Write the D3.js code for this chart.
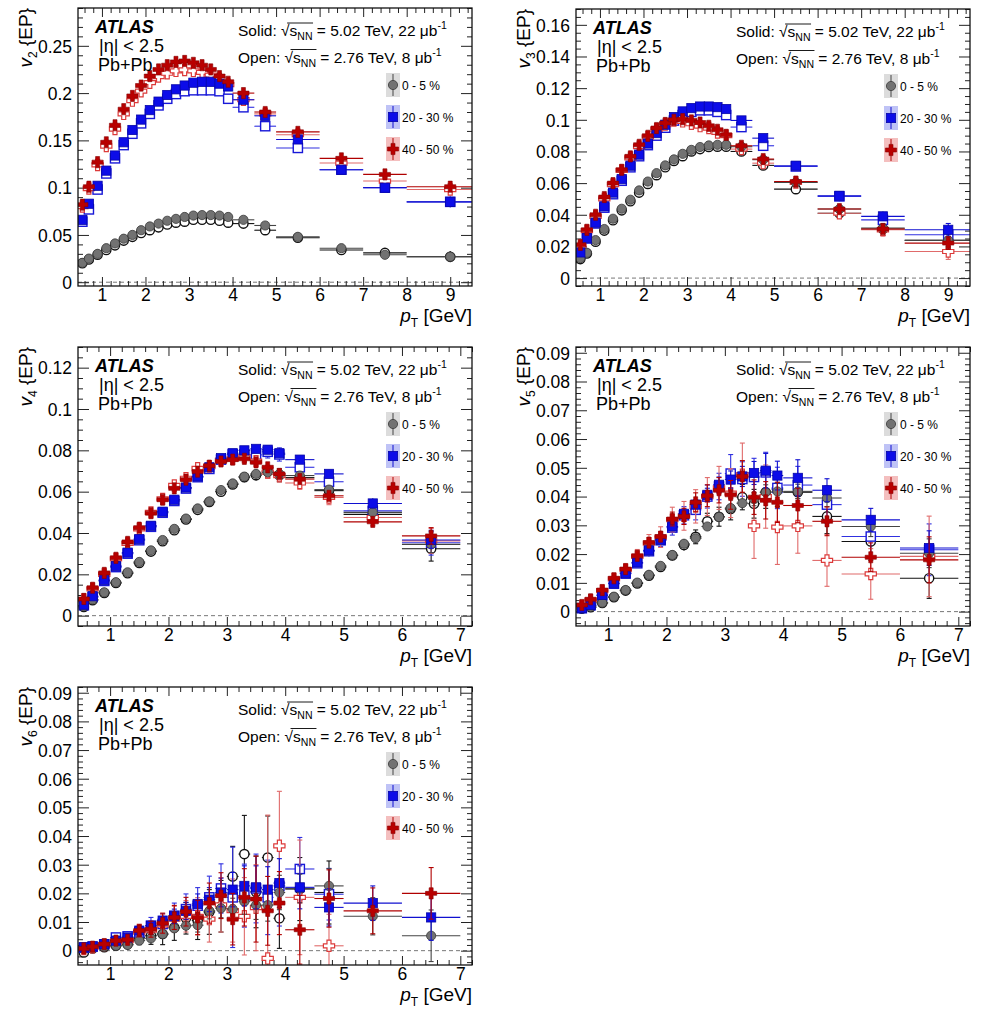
<!DOCTYPE html>
<html><head><meta charset="utf-8">
<script src="https://cdn.jsdelivr.net/npm/d3@7"></script>
<style>
body{margin:0;background:#fff}
svg{display:block}
text{font-family:"Liberation Sans",Arial,Helvetica,sans-serif;fill:#000;white-space:pre}
</style>
</head><body>
<svg id="chart" width="986" height="1011"></svg>
<script>
// ---------------- DATA ----------------
const pTCenters = [0.55,0.7,0.9,1.1,1.3,1.5,1.7,1.9,2.1,2.3,2.5,2.7,2.9,3.1,3.3,3.5,3.7,3.9,4.25,4.75,5.5,6.5,7.5,9.0];
const pTLow     = [0.5,0.6,0.8,1.0,1.2,1.4,1.6,1.8,2.0,2.2,2.4,2.6,2.8,3.0,3.2,3.4,3.6,3.8,4.0,4.5,5,6,7,8];
const pTHigh    = [0.6,0.8,1.0,1.2,1.4,1.6,1.8,2.0,2.2,2.4,2.6,2.8,3.0,3.2,3.4,3.6,3.8,4.0,4.5,5,6,7,8,10];

const centralityLabels = ["0 - 5 %","20 - 30 %","40 - 50 %"];
const ticksWideX = [1,2,3,4,5,6,7,8,9];
const ticksNarrowX = [1,2,3,4,5,6,7];
const v2YTicks = [0,0.05,0.1,0.15,0.2,0.25];
const v3YTicks = [0,0.02,0.04,0.06,0.08,0.1,0.12,0.14,0.16];
const v4YTicks = [0,0.02,0.04,0.06,0.08,0.1,0.12];
const v5YTicks = [0,0.01,0.02,0.03,0.04,0.05,0.06,0.07,0.08,0.09];
const v6YTicks = [0,0.01,0.02,0.03,0.04,0.05,0.06,0.07,0.08,0.09];

// v2
const v2_0_5_502   = [0.0205,0.025,0.030,0.036,0.041,0.046,0.050,0.055,0.059,0.062,0.065,0.067,0.069,0.0705,0.071,0.071,0.0705,0.069,0.066,0.060,0.048,0.036,0.029,0.027];
const v2_0_5_276   = [0.020,0.024,0.029,0.034,0.039,0.044,0.048,0.052,0.055,0.058,0.061,0.063,0.064,0.066,0.066,0.066,0.065,0.063,0.062,0.055,0.047,0.034,0.031,0.027];
const v2_20_30_502 = [0.066,0.083,0.102,0.118,0.134,0.148,0.161,0.172,0.182,0.191,0.198,0.204,0.208,0.211,0.212,0.212,0.210,0.207,0.193,0.176,0.151,0.119,0.100,0.085];
const v2_20_30_276 = [0.064,0.077,0.098,0.115,0.131,0.145,0.157,0.168,0.178,0.187,0.194,0.199,0.202,0.203,0.203,0.203,0.202,0.194,0.185,0.165,0.142,0.119,0.100,0.085];
const v2_40_50_502 = [0.082,0.101,0.127,0.148,0.166,0.183,0.197,0.208,0.218,0.225,0.2295,0.233,0.234,0.232,0.2295,0.225,0.218,0.212,0.200,0.180,0.159,0.131,0.114,0.101];
const v2_40_50_276 = [0.080,0.099,0.124,0.144,0.162,0.178,0.192,0.202,0.211,0.2175,0.221,0.2235,0.2245,0.2235,0.222,0.219,0.215,0.209,0.193,0.178,0.156,0.126,0.107,0.098];
const v2_err_502   = [0.0004,0.0004,0.0004,0.0004,0.0004,0.0004,0.0004,0.0004,0.0004,0.0004,0.0004,0.0004,0.0005,0.0005,0.0005,0.0005,0.0006,0.0006,0.0008,0.001,0.0015,0.002,0.003,0.004];
const v2_err_276   = [0.0006,0.0006,0.0006,0.0006,0.0006,0.0006,0.0006,0.0006,0.0006,0.0006,0.0007,0.0007,0.0007,0.0008,0.0008,0.0009,0.0009,0.001,0.0012,0.0015,0.002,0.003,0.004,0.006];

// v3
const v3_0_5_502   = [0.0126,0.016,0.024,0.031,0.0375,0.0438,0.0495,0.0554,0.061,0.0663,0.0712,0.075,0.0785,0.081,0.0828,0.0838,0.0842,0.0842,0.083,0.0748,0.0604,0.0436,0.0316,0.0238];
const v3_0_5_276   = [0.012,0.0155,0.023,0.030,0.0365,0.0428,0.0485,0.054,0.0595,0.065,0.070,0.074,0.077,0.080,0.0815,0.0828,0.083,0.083,0.080,0.0712,0.0562,0.041,0.031,0.0238];
const v3_20_30_502 = [0.0162,0.0253,0.035,0.0453,0.054,0.0625,0.071,0.078,0.085,0.0916,0.0969,0.1017,0.1053,0.1074,0.1084,0.1084,0.108,0.1068,0.0996,0.0884,0.071,0.052,0.039,0.0305];
const v3_20_30_276 = [0.0158,0.025,0.0345,0.0445,0.053,0.0615,0.070,0.077,0.084,0.090,0.095,0.0995,0.103,0.105,0.106,0.106,0.105,0.103,0.0954,0.0836,0.0705,0.0516,0.0368,0.0274];
const v3_40_50_502 = [0.021,0.0305,0.040,0.0512,0.060,0.0684,0.0769,0.0842,0.0899,0.0948,0.098,0.100,0.1004,0.0996,0.0983,0.0962,0.0937,0.0905,0.0836,0.0752,0.061,0.0436,0.031,0.0221];
const v3_40_50_276 = [0.020,0.030,0.039,0.050,0.059,0.068,0.076,0.083,0.089,0.094,0.097,0.0995,0.099,0.0975,0.096,0.0948,0.092,0.090,0.0815,0.0726,0.0604,0.041,0.0305,0.0168];
const v3_err_502   = [0.0004,0.0004,0.0004,0.0004,0.0004,0.0004,0.0004,0.0004,0.0004,0.0004,0.0005,0.0005,0.0005,0.0005,0.0006,0.0006,0.0006,0.0007,0.0008,0.001,0.0015,0.002,0.003,0.004];
const v3_err_276   = [0.0005,0.0005,0.0005,0.0005,0.0005,0.0005,0.0005,0.0005,0.0006,0.0006,0.0006,0.0007,0.0007,0.0008,0.0008,0.0009,0.001,0.001,0.0012,0.0015,0.002,0.003,0.004,0.005];

// v4
const v4_0_5_502   = [0.0045,0.0078,0.0113,0.0162,0.021,0.026,0.0316,0.0366,0.042,0.047,0.0519,0.0553,0.0608,0.064,0.0673,0.0686,0.0694,0.0686,0.0678,0.061,0.050,0.0345];
const v4_0_5_276   = [0.0042,0.0075,0.011,0.0158,0.0205,0.0255,0.031,0.036,0.0413,0.0465,0.0512,0.055,0.060,0.0635,0.067,0.068,0.0697,0.068,0.0668,0.0605,0.049,0.0324];
const v4_20_30_502 = [0.0053,0.0094,0.0172,0.024,0.0305,0.037,0.0435,0.0503,0.0561,0.062,0.0674,0.0718,0.0762,0.0786,0.080,0.0807,0.0803,0.0786,0.0755,0.0686,0.0543,0.0366];
const v4_20_30_276 = [0.005,0.009,0.0168,0.0235,0.030,0.0365,0.043,0.0498,0.0555,0.0615,0.067,0.071,0.0755,0.078,0.078,0.0778,0.0793,0.078,0.0718,0.0648,0.0507,0.0353];
const v4_40_50_502 = [0.0081,0.0135,0.0207,0.028,0.0357,0.0426,0.0496,0.0561,0.0616,0.0658,0.0697,0.0726,0.0746,0.0755,0.0759,0.0742,0.0718,0.0686,0.0661,0.058,0.0454,0.0386];
const v4_40_50_276 = [0.0078,0.013,0.020,0.0275,0.035,0.042,0.050,0.0565,0.063,0.0665,0.0713,0.0722,0.0752,0.0759,0.0767,0.0748,0.0694,0.0678,0.0642,0.0572,0.0475,0.0362];
const v4_err_502   = [0.0003,0.0003,0.0003,0.0003,0.0004,0.0004,0.0005,0.0005,0.0006,0.0007,0.0008,0.0009,0.001,0.0012,0.0014,0.0016,0.0018,0.002,0.0015,0.002,0.0025,0.004];
const v4_err_276   = [0.0004,0.0004,0.0005,0.0005,0.0006,0.0007,0.0008,0.0009,0.001,0.0012,0.0014,0.0016,0.0018,0.002,0.0024,0.0027,0.003,0.0032,0.003,0.0035,0.004,0.006];

// v5
const v5_0_5_502   = [0.0012,0.0017,0.0031,0.0052,0.0075,0.0101,0.0128,0.0159,0.0197,0.0236,0.0255,0.0296,0.0329,0.036,0.0377,0.0391,0.0415,0.0418,0.0418,0.0395,0.0296,0.0203];
const v5_0_5_276   = [0.001,0.0015,0.003,0.005,0.0073,0.0098,0.0125,0.0155,0.0195,0.0232,0.026,0.0314,0.033,0.0357,0.0398,0.0375,0.0415,0.0426,0.0415,0.0331,0.0244,0.0116];
const v5_20_30_502 = [0.0012,0.0023,0.0058,0.0099,0.0134,0.0171,0.0213,0.025,0.0296,0.034,0.0372,0.0406,0.0441,0.0459,0.047,0.0482,0.049,0.0473,0.0465,0.0422,0.0319,0.0221];
const v5_20_30_276 = [0.0012,0.0022,0.0056,0.0097,0.0132,0.0168,0.021,0.0248,0.0292,0.0335,0.0354,0.040,0.0435,0.048,0.0461,0.0468,0.0484,0.043,0.044,0.0372,0.0261,0.0215];
const v5_40_50_502 = [0.0023,0.0043,0.0075,0.0116,0.0148,0.0194,0.024,0.0261,0.0322,0.0331,0.038,0.0403,0.0422,0.0406,0.047,0.0398,0.0387,0.038,0.0369,0.0314,0.0189,0.018];
const v5_40_50_276 = [0.002,0.004,0.0073,0.0114,0.0146,0.0192,0.0238,0.0259,0.032,0.0333,0.0366,0.040,0.043,0.0412,0.0476,0.0298,0.040,0.0294,0.0298,0.0178,0.0131,0.0192];
const v5_0_5_502_err   = [0.0003,0.0003,0.0004,0.0004,0.0005,0.0006,0.0007,0.0008,0.0009,0.001,0.0012,0.0014,0.0016,0.0018,0.002,0.0023,0.0026,0.003,0.0025,0.003,0.0035,0.005];
const v5_0_5_276_err   = [0.0005,0.0005,0.0006,0.0007,0.0008,0.001,0.0012,0.0014,0.0017,0.002,0.0024,0.0028,0.0033,0.0038,0.0044,0.005,0.0056,0.006,0.005,0.006,0.0065,0.007];
const v5_20_30_502_err = [0.0004,0.0004,0.0005,0.0006,0.0007,0.0008,0.001,0.0012,0.0014,0.0017,0.002,0.0023,0.0027,0.003,0.0035,0.004,0.006,0.005,0.0063,0.004,0.004,0.006];
const v5_20_30_276_err = [0.0006,0.0006,0.0008,0.001,0.0012,0.0015,0.0018,0.0022,0.0026,0.003,0.0035,0.004,0.0046,0.0066,0.006,0.0065,0.007,0.0072,0.0065,0.0065,0.007,0.009];
const v5_40_50_502_err = [0.0006,0.0007,0.0008,0.001,0.0012,0.0014,0.0017,0.002,0.0024,0.0028,0.0033,0.0038,0.0044,0.005,0.0055,0.006,0.0065,0.007,0.006,0.005,0.005,0.008];
const v5_40_50_276_err = [0.001,0.0011,0.0013,0.0016,0.002,0.0024,0.003,0.0036,0.0043,0.005,0.0058,0.0066,0.0075,0.0085,0.011,0.0113,0.011,0.013,0.0095,0.009,0.0088,0.014];

// v6
const v6_0_5_502   = [0.0008,0.0012,0.0014,0.0017,0.002,0.0035,0.0043,0.0058,0.0078,0.0087,0.0089,0.0139,0.0148,0.0145,0.0171,0.0159,0.0159,0.0203,0.0217,0.0226,0.012,0.0052];
const v6_0_5_276   = [-0.0006,0.0008,0.0012,0.0017,0.0022,0.0045,0.0052,0.0058,0.0081,0.0113,0.0105,0.0135,0.0155,0.0259,0.0337,0.0205,0.0325,0.0113,0.0215,0.0203,null,null];
const v6_20_30_502 = [0.0012,0.0015,0.0023,0.0035,0.0046,0.007,0.0087,0.0105,0.012,0.0139,0.0163,0.0178,0.0203,0.0213,0.0226,0.0221,0.0213,0.0236,0.0221,0.0151,0.0166,0.0116];
const v6_20_30_276 = [0.001,0.0014,0.0022,0.0046,0.005,0.0064,0.0087,0.0093,0.0122,0.0145,0.0157,0.0186,0.0217,0.0186,0.0192,0.0217,0.0186,0.0226,0.0285,0.0197,null,null];
const v6_40_50_502 = [0.0008,0.0014,0.0023,0.0035,0.0038,0.007,0.0075,0.0096,0.0116,0.0136,0.0116,0.0166,0.0192,0.011,0.0186,0.018,0.0139,0.0166,0.0073,0.0182,0.0139,0.020];
const v6_40_50_276 = [0.0006,0.0012,0.002,0.003,0.0035,0.0065,0.0072,0.009,0.011,0.012,0.012,0.011,0.016,0.014,0.012,0.015,-0.0027,0.0366,0.0186,0.0017,null,null];
const v6_0_5_502_err   = [0.0005,0.0005,0.0006,0.0007,0.0008,0.001,0.0012,0.0014,0.0017,0.002,0.0024,0.0028,0.0033,0.0038,0.0044,0.005,0.0056,0.006,0.005,0.006,0.0065,0.009];
const v6_0_5_276_err   = [0.001,0.001,0.0012,0.0015,0.0019,0.0024,0.003,0.0037,0.0045,0.0055,0.0066,0.0078,0.009,0.0105,0.0135,0.0125,0.0145,0.0105,0.011,0.011,0,0];
const v6_20_30_502_err = [0.0006,0.0006,0.0007,0.0009,0.0011,0.0014,0.0017,0.002,0.0025,0.003,0.0035,0.0042,0.005,0.006,0.007,0.0075,0.008,0.0085,0.0075,0.0065,0.006,0.008];
const v6_20_30_276_err = [0.0008,0.0009,0.0011,0.0014,0.0018,0.0023,0.0029,0.0036,0.0044,0.0053,0.0063,0.0074,0.0086,0.0175,0.011,0.012,0.013,0.014,0.011,0.009,0,0];
const v6_40_50_502_err = [0.0008,0.0009,0.0011,0.0014,0.0018,0.0022,0.0028,0.0035,0.0042,0.005,0.006,0.007,0.008,0.009,0.01,0.015,0.012,0.011,0.012,0.01,0.008,0.009];
const v6_40_50_276_err = [0.001,0.0011,0.0013,0.0016,0.002,0.0025,0.003,0.0037,0.0045,0.0055,0.0065,0.008,0.0095,0.011,0.0135,0.015,0.05,0.019,0.02,0.011,0,0];

// ---------------- LAYOUT ----------------
const panels = [
  {n:"2", box:{l:78,t:8,r:472,b:286},  xDom:[0.45,9.5], yDom:[-0.004,0.29], xTicks:ticksWideX, xMinor:0.2, yTicks:v2YTicks, yMinor:0.01,
   s:[[v2_0_5_502,v2_err_502],[v2_20_30_502,v2_err_502],[v2_40_50_502,v2_err_502]],
   o:[[v2_0_5_276,v2_err_276],[v2_20_30_276,v2_err_276],[v2_40_50_276,v2_err_276]]},
  {n:"3", box:{l:576,t:9,r:970,b:286}, xDom:[0.45,9.5], yDom:[-0.005,0.17], xTicks:ticksWideX, xMinor:0.2, yTicks:v3YTicks, yMinor:0.005,
   s:[[v3_0_5_502,v3_err_502],[v3_20_30_502,v3_err_502],[v3_40_50_502,v3_err_502]],
   o:[[v3_0_5_276,v3_err_276],[v3_20_30_276,v3_err_276],[v3_40_50_276,v3_err_276]]},
  {n:"4", box:{l:78,t:347,r:472,b:626}, xDom:[0.45,7.2], yDom:[-0.005,0.13], xTicks:ticksNarrowX, xMinor:0.2, yTicks:v4YTicks, yMinor:0.005,
   s:[[v4_0_5_502,v4_err_502],[v4_20_30_502,v4_err_502],[v4_40_50_502,v4_err_502]],
   o:[[v4_0_5_276,v4_err_276],[v4_20_30_276,v4_err_276],[v4_40_50_276,v4_err_276]]},
  {n:"5", box:{l:576,t:347,r:970,b:626}, xDom:[0.45,7.2], yDom:[-0.005,0.092], xTicks:ticksNarrowX, xMinor:0.2, yTicks:v5YTicks, yMinor:0.002,
   s:[[v5_0_5_502,v5_0_5_502_err],[v5_20_30_502,v5_20_30_502_err],[v5_40_50_502,v5_40_50_502_err]],
   o:[[v5_0_5_276,v5_0_5_276_err],[v5_20_30_276,v5_20_30_276_err],[v5_40_50_276,v5_40_50_276_err]]},
  {n:"6", box:{l:78,t:687,r:472,b:965}, xDom:[0.45,7.2], yDom:[-0.005,0.092], xTicks:ticksNarrowX, xMinor:0.2, yTicks:v6YTicks, yMinor:0.002,
   s:[[v6_0_5_502,v6_0_5_502_err],[v6_20_30_502,v6_20_30_502_err],[v6_40_50_502,v6_40_50_502_err]],
   o:[[v6_0_5_276,v6_0_5_276_err],[v6_20_30_276,v6_20_30_276_err],[v6_40_50_276,v6_40_50_276_err]]}
];

const styles = [
  {solidFill:"#727272", solidStroke:"#3a3a3a", openStroke:"#111", errS:"#444", errO:"#111", band:"#d6d6d6"},
  {solidFill:"#0c0ce8", solidStroke:"#0606a8", openStroke:"#1818d8", errS:"#1010d0", errO:"#3030e0", band:"#b4b8f4"},
  {solidFill:"#b80000", solidStroke:"#8a0000", openStroke:"#dc3a3a", errS:"#b00000", errO:"#e06a6a", band:"#f2b4b4"}
];

const svg = d3.select("#chart");

function plusPath(s, a){
  return `M${-a},${-s}H${a}V${-a}H${s}V${a}H${a}V${s}H${-a}V${a}H${-s}V${-a}H${-a}Z`;
}

function drawMarker(g, cent, open, cx, cy){
  const st = styles[cent];
  const fill = open ? "#fff" : st.solidFill;
  const stroke = open ? st.openStroke : st.solidStroke;
  const sw = open ? 1.4 : 0.8;
  if (cent === 0){
    g.append("circle").attr("cx",cx).attr("cy",cy).attr("r",4.6)
      .attr("fill",fill).attr("stroke",stroke).attr("stroke-width",sw);
  } else if (cent === 1){
    g.append("rect").attr("x",cx-4.6).attr("y",cy-4.6).attr("width",9.2).attr("height",9.2)
      .attr("fill",fill).attr("stroke",stroke).attr("stroke-width",sw);
  } else {
    g.append("path").attr("d",plusPath(5.6,2.0)).attr("transform",`translate(${cx},${cy})`)
      .attr("fill",fill).attr("stroke",stroke).attr("stroke-width",open?1.2:0.6);
  }
}

function richText(g, x, y, segs){
  let cx = x; const pos = [];
  segs.forEach(s=>{
    const t = g.append("text").attr("x",cx).attr("y",y+(s.dy||0))
      .attr("xml:space","preserve")
      .style("font-size",s.size+"px").style("white-space","pre").text(s.t);
    if (s.italic) t.style("font-style","italic");
    if (s.bold) t.style("font-weight","bold");
    const w = t.node().getComputedTextLength();
    pos.push([cx,cx+w]); cx += w;
  });
  return {pos, end:cx, width:cx-x};
}

function fmt(v){ return String(+v.toFixed(3)); }

panels.forEach((P, pi)=>{
  const {l,t,r,b} = P.box;
  const x = d3.scaleLinear().domain(P.xDom).range([l,r]);
  const y = d3.scaleLinear().domain(P.yDom).range([b,t]);
  const g = svg.append("g");
  const clipId = "clip"+pi;
  g.append("clipPath").attr("id",clipId).append("rect").attr("x",l).attr("y",t).attr("width",r-l).attr("height",b-t);

  // zero dashed line
  g.append("line").attr("x1",l).attr("x2",r).attr("y1",y(0)).attr("y2",y(0))
    .attr("stroke","#777").attr("stroke-width",1).attr("stroke-dasharray","4,3");

  const xMinorVals = d3.range(Math.ceil(P.xDom[0]/P.xMinor)*P.xMinor, P.xDom[1]+1e-9, P.xMinor)
      .filter(v=>Math.abs(v-Math.round(v))>1e-6);
  const yMinorVals = d3.range(Math.ceil(P.yDom[0]/P.yMinor)*P.yMinor, P.yDom[1]+1e-9, P.yMinor)
      .filter(v=>!P.yTicks.some(tk=>Math.abs(tk-v)<1e-7));

  const axB = g.append("g").attr("transform",`translate(0,${b})`)
    .call(d3.axisBottom(x).tickValues(P.xTicks).tickSize(-9).tickPadding(7).tickFormat(d=>d));
  g.append("g").attr("transform",`translate(0,${b})`)
    .call(d3.axisBottom(x).tickValues(xMinorVals).tickSize(-5).tickFormat(""));
  g.append("g").attr("transform",`translate(0,${t})`)
    .call(d3.axisTop(x).tickValues(P.xTicks).tickSize(-9).tickFormat(""));
  g.append("g").attr("transform",`translate(0,${t})`)
    .call(d3.axisTop(x).tickValues(xMinorVals).tickSize(-5).tickFormat(""));
  const axL = g.append("g").attr("transform",`translate(${l},0)`)
    .call(d3.axisLeft(y).tickValues(P.yTicks).tickSize(-11).tickPadding(6).tickFormat(fmt));
  g.append("g").attr("transform",`translate(${l},0)`)
    .call(d3.axisLeft(y).tickValues(yMinorVals).tickSize(-5).tickFormat(""));
  g.append("g").attr("transform",`translate(${r},0)`)
    .call(d3.axisRight(y).tickValues(P.yTicks).tickSize(-11).tickFormat(""));
  g.append("g").attr("transform",`translate(${r},0)`)
    .call(d3.axisRight(y).tickValues(yMinorVals).tickSize(-5).tickFormat(""));
  g.selectAll(".domain").remove();
  g.selectAll(".tick line").attr("stroke","#222").attr("stroke-width",1);
  axB.selectAll(".tick text").style("font-size","17.5px").attr("fill","#000")
     .style("font-family",'"Liberation Sans",Arial,sans-serif');
  axB.selectAll(".tick text").attr("dy",null).attr("y",15);
  axL.selectAll(".tick text").style("font-size","17.5px").attr("fill","#000")
     .style("font-family",'"Liberation Sans",Arial,sans-serif').attr("x",-6).attr("dy","0.36em");

  // data
  const dg = g.append("g").attr("clip-path",`url(#${clipId})`);
  const order = [["o",0],["o",1],["o",2],["s",0],["s",1],["s",2]];
  order.forEach(([kind,cent])=>{
    const [vals, errs] = P[kind][cent];
    const open = kind==="o";
    const st = styles[cent];
    const col = open ? st.errO : st.errS;
    const pts = vals.map((v,i)=>({v, e:errs[i]||0, c:pTCenters[i], lo:pTLow[i], hi:pTHigh[i]})).filter(d=>d.v!=null);
    pts.forEach(d=>{
      const cx = x(d.c), cy = y(d.v);
      dg.append("line").attr("x1",x(d.lo)).attr("x2",x(d.hi)).attr("y1",cy).attr("y2",cy)
        .attr("stroke",col).attr("stroke-width",1.1);
      if (d.e>0){
        const y1 = y(d.v+d.e), y2 = y(d.v-d.e);
        dg.append("line").attr("x1",cx).attr("x2",cx).attr("y1",y1).attr("y2",y2)
          .attr("stroke",col).attr("stroke-width",1.1);
        if (Math.abs(y2-y1)>12){
          [y1,y2].forEach(yy=>dg.append("line").attr("x1",cx-2.5).attr("x2",cx+2.5).attr("y1",yy).attr("y2",yy)
            .attr("stroke",col).attr("stroke-width",1.1));
        }
      }
      drawMarker(dg, cent, open, cx, cy);
    });
  });

  // frame
  g.append("rect").attr("x",l).attr("y",t).attr("width",r-l).attr("height",b-t)
    .attr("fill","none").attr("stroke","#111").attr("stroke-width",1.3);

  // texts
  const tg = g.append("g");
  richText(tg, l+17, t+24.5, [{t:"ATLAS", size:18, italic:true, bold:true}]);
  richText(tg, l+21, t+43.5, [{t:"|η| < 2.5", size:18}]);
  richText(tg, l+20, t+63, [{t:"Pb+Pb", size:18}]);

  function energyLine(yy, lead, energy, lumi){
    const res = richText(tg, l+160, yy, [
      {t:lead, size:15.5},
      {t:"√", size:15.5},
      {t:"s", size:15.5},
      {t:"NN", size:10.5, dy:4},
      {t:" = "+energy+" TeV, "+lumi+" μb", size:15.5},
      {t:"-1", size:10.5, dy:-7}
    ]);
    const ex = res.pos[3][1]+0.5;
    tg.append("line").attr("x1",res.pos[1][0]+6).attr("x2",ex).attr("y1",yy-13).attr("y2",yy-13)
      .attr("stroke","#000").attr("stroke-width",0.9);
  }
  energyLine(t+28, "Solid: ", "5.02", "22");
  energyLine(t+54.5, "Open: ", "2.76", "8");

  // legend
  centralityLabels.forEach((lab,ci)=>{
    const cy = t+77+ci*32, cx = l+315;
    tg.append("rect").attr("x",cx-7).attr("y",cy-12).attr("width",14).attr("height",24)
      .attr("fill",styles[ci].band).attr("opacity",0.85);
    tg.append("line").attr("x1",cx).attr("x2",cx).attr("y1",cy-11).attr("y2",cy+11)
      .attr("stroke",styles[ci].errS).attr("stroke-width",1);
    drawMarker(tg, ci, false, cx, cy);
    tg.append("text").attr("x",cx+9).attr("y",cy+4.5).style("font-size","12px").text(lab);
  });

  // y title (rotated, right-aligned at top)
  const yt = g.append("g").attr("transform",`translate(${l-46},${t}) rotate(-90)`);
  const tmp = richText(yt, 0, 0, [
    {t:"v", size:19, italic:true},
    {t:P.n, size:12, dy:5},
    {t:" {EP}", size:19}
  ]);
  yt.selectAll("text").attr("transform",`translate(${-tmp.width},0)`);

  // x title (right-aligned at frame right)
  const xt = g.append("g");
  const xr = richText(xt, 0, b+36, [
    {t:"p", size:19, italic:true},
    {t:"T", size:12, dy:5},
    {t:" [GeV]", size:19}
  ]);
  xt.attr("transform",`translate(${r-xr.width},0)`);
});
</script>
</body></html>
